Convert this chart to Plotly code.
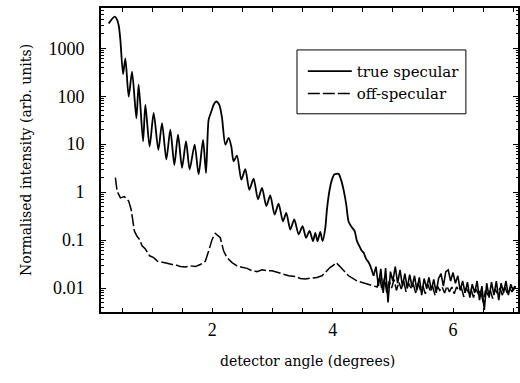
import plotly.graph_objects as go

# ---- true specular (main part) ----
spec_x = [0.277, 0.377, 0.414, 0.444, 0.472, 0.517, 0.555, 0.610, 0.666, 0.738, 0.776, 0.849, 0.887,
          0.958, 1.025, 1.103, 1.164, 1.236, 1.302, 1.369, 1.430, 1.497, 1.563, 1.623, 1.706, 1.772,
          1.846, 1.895, 1.939, 1.983, 2.028, 2.066, 2.116, 2.161, 2.216, 2.271, 2.316, 2.354, 2.410,
          2.482, 2.548, 2.615, 2.686, 2.759, 2.826, 2.897, 2.963, 3.035, 3.101, 3.174, 3.229, 3.296,
          3.362, 3.434, 3.500, 3.557, 3.616, 3.673, 3.711, 3.749, 3.794, 3.832, 3.877, 3.905, 3.949,
          3.988, 4.027, 4.098, 4.138, 4.181, 4.226, 4.264, 4.321, 4.364, 4.404, 4.458, 4.487, 4.513,
          4.558, 4.586, 4.625, 4.653, 4.680]
spec_y = [3300, 4570, 4000, 3020, 1480, 288, 617, 98, 324, 34.7, 174, 11.5, 66,
          8.9, 44.7, 7.6, 27.5, 4.8, 20, 3.7, 15.8, 3.2, 11.5, 2.95, 9.8, 2.34,
          12.3, 2.5, 32.4, 47.9, 69, 77.6, 66, 35.5, 9.8, 13.5, 8.9, 4.4, 5.75,
          1.82, 3.0, 1.12, 1.9, 0.71, 1.23, 0.51, 0.85, 0.34, 0.575, 0.245, 0.37, 0.166,
          0.27, 0.132, 0.195, 0.112, 0.155, 0.095, 0.141, 0.095, 0.148, 0.095, 0.178, 0.436, 1.12,
          1.82, 2.34, 2.4, 1.82, 1.12, 0.55, 0.245, 0.182, 0.155, 0.095, 0.069, 0.059, 0.055,
          0.040, 0.036, 0.029, 0.023, 0.018]

# ---- true specular (noisy tail) ----
spec_tail_x = [4.72, 4.76, 4.80, 4.84, 4.88, 4.92, 4.96, 5.00, 5.04, 5.08, 5.12, 5.16, 5.20, 5.24,
               5.28, 5.32, 5.36, 5.40, 5.44, 5.48, 5.52, 5.56, 5.60, 5.64, 5.68, 5.72, 5.76, 5.80,
               5.84, 5.88, 5.92, 5.96, 6.00, 6.04, 6.08, 6.12, 6.16, 6.20, 6.24, 6.28, 6.32, 6.36,
               6.40, 6.44, 6.48, 6.52, 6.56, 6.60, 6.64, 6.68, 6.72, 6.76, 6.80, 6.84, 6.88, 6.92,
               6.96, 7.00, 7.04]
spec_tail_y = [0.028, 0.011, 0.025, 0.0079, 0.026, 0.005, 0.022, 0.014, 0.028, 0.0126, 0.024, 0.011,
               0.020, 0.010, 0.019, 0.0105, 0.018, 0.0089, 0.0166, 0.0071, 0.0158, 0.010, 0.0166,
               0.0089, 0.0151, 0.0079, 0.0158, 0.020, 0.011, 0.022, 0.024, 0.014, 0.021, 0.0126,
               0.018, 0.0089, 0.014, 0.0079, 0.0132, 0.0063, 0.012, 0.0079, 0.014, 0.0056, 0.011,
               0.0035, 0.0126, 0.0063, 0.0132, 0.0071, 0.014, 0.0056, 0.0126, 0.0079, 0.014, 0.0071,
               0.012, 0.0089, 0.011]

# ---- off-specular (main part) ----
off_x = [0.389, 0.417, 0.472, 0.538, 0.610, 0.650, 0.676, 0.704, 0.749, 0.792, 0.832, 0.887, 0.958,
         1.025, 1.091, 1.164, 1.248, 1.331, 1.402, 1.468, 1.551, 1.635, 1.718, 1.801, 1.884, 1.939,
         1.995, 2.050, 2.105, 2.133, 2.188, 2.244, 2.327, 2.410, 2.493, 2.576, 2.659, 2.743, 2.826,
         2.909, 2.992, 3.158, 3.267, 3.379, 3.462, 3.545, 3.656, 3.739, 3.822, 3.905, 3.960, 4.015,
         4.055, 4.110, 4.181, 4.264, 4.404, 4.570, 4.680]
off_y = [2.0, 1.05, 0.76, 0.81, 0.65, 0.44, 0.27, 0.155, 0.12, 0.102, 0.076, 0.065, 0.047,
         0.043, 0.036, 0.034, 0.033, 0.031, 0.030, 0.028, 0.0275, 0.029, 0.028, 0.031, 0.036, 0.059,
         0.102, 0.138, 0.12, 0.112, 0.059, 0.043, 0.034, 0.029, 0.027, 0.0257, 0.023, 0.022, 0.024,
         0.023, 0.023, 0.0195, 0.018, 0.0174, 0.0158, 0.0155, 0.0158, 0.0166, 0.018, 0.023, 0.027, 0.030,
         0.034, 0.029, 0.023, 0.018, 0.014, 0.012, 0.011]

# ---- off-specular (noisy tail) ----
off_tail_x = [4.74, 4.78, 4.82, 4.86, 4.90, 4.94, 4.98, 5.02, 5.06, 5.10, 5.14, 5.18, 5.22, 5.26,
              5.30, 5.34, 5.38, 5.42, 5.46, 5.50, 5.54, 5.58, 5.62, 5.66, 5.70, 5.74, 5.78, 5.82,
              5.86, 5.90, 5.94, 5.98, 6.02, 6.06, 6.10, 6.14, 6.18, 6.22, 6.26, 6.30, 6.34, 6.38,
              6.42, 6.46, 6.50, 6.54, 6.58, 6.62, 6.66, 6.70, 6.74, 6.78, 6.82, 6.86, 6.90, 6.94,
              6.98, 7.02, 7.06]
off_tail_y = [0.0105, 0.018, 0.0089, 0.0158, 0.0079, 0.014, 0.010, 0.0151, 0.0089, 0.0132, 0.0095,
              0.014, 0.0083, 0.0126, 0.010, 0.012, 0.0079, 0.0126, 0.0089, 0.011, 0.0076, 0.012,
              0.0089, 0.011, 0.0071, 0.011, 0.0089, 0.0105, 0.0079, 0.011, 0.0083, 0.0105, 0.0076,
              0.0105, 0.0089, 0.010, 0.0066, 0.010, 0.0079, 0.0095, 0.0063, 0.0095, 0.0076, 0.0089,
              0.005, 0.0089, 0.0071, 0.0089, 0.006, 0.0095, 0.0076, 0.010, 0.0071, 0.0105, 0.0079,
              0.010, 0.0083, 0.0105, 0.0089]

x_tick_vals = [0.5, 1.0, 1.5, 2.0, 2.5, 3.0, 3.5, 4.0, 4.5, 5.0, 5.5, 6.0, 6.5, 7.0]
x_tick_text = ["", "", "", "2", "", "", "", "4", "", "", "", "6", "", ""]
y_tick_vals = [0.01, 0.1, 1, 10, 100, 1000]
y_tick_text = ["0.01", "0.1", "1", "10", "100", "1000"]

y_minor = [m * 10.0 ** e for e in range(-3, 4) for m in range(2, 10)]
y_minor = [v for v in y_minor if 0.0032 < v < 6900]

serif = "DejaVu Serif"
tickfont = dict(family="Liberation Serif", size=18, color="black")

fig = go.Figure()
fig.add_trace(go.Scatter(x=spec_x, y=spec_y, mode="lines", legendgroup="spec",
                         name="true specular",
                         line=dict(color="black", width=1.8, shape="spline", smoothing=0.7)))
fig.add_trace(go.Scatter(x=spec_x[-1:] + spec_tail_x, y=spec_y[-1:] + spec_tail_y, mode="lines",
                         legendgroup="spec", showlegend=False, name="true specular",
                         line=dict(color="black", width=1.6)))
fig.add_trace(go.Scatter(x=off_x + off_tail_x, y=off_y + off_tail_y, mode="lines",
                         name="off-specular",
                         line=dict(color="black", width=1.5, dash="12px,3px")))

fig.update_layout(
    width=520, height=383,
    margin=dict(l=101, r=2, t=8, b=71),
    plot_bgcolor="white", paper_bgcolor="white",
    showlegend=True,
    legend=dict(x=0.484, y=0.846, xanchor="left", yanchor="top",
                bgcolor="rgba(0,0,0,0)", borderwidth=0,
                font=dict(family=serif, size=15, color="black"),
                itemwidth=44, tracegroupgap=0),
    shapes=[dict(type="rect", xref="paper", yref="paper", x0=0.470, x1=0.875, y0=0.652, y1=0.862,
                 line=dict(color="black", width=1), fillcolor="rgba(0,0,0,0)", layer="above")],
    annotations=[
        dict(text="detector angle (degrees)", xref="paper", yref="paper", x=0.495, y=-0.1626,
             xanchor="center", yanchor="middle", showarrow=False,
             font=dict(family=serif, size=14, color="black")),
        dict(text="Normalised intensity (arb. units)", xref="paper", yref="paper", x=-0.18, y=0.5,
             xanchor="center", yanchor="middle", showarrow=False, textangle=-90,
             font=dict(family=serif, size=14, color="black")),
    ],
)

fig.update_xaxes(range=[0.15, 7.08], tickmode="array", tickvals=x_tick_vals, ticktext=x_tick_text,
                 ticks="inside", ticklen=4, tickwidth=1, tickcolor="black",
                 showline=True, linecolor="black", linewidth=2, mirror="allticks",
                 showgrid=False, zeroline=False, tickfont=tickfont, ticklabelstandoff=0,
                 automargin=False)
fig.update_yaxes(type="log", range=[-2.5, 3.84], tickmode="array", tickvals=y_tick_vals,
                 ticktext=y_tick_text,
                 ticks="inside", ticklen=5, tickwidth=1, tickcolor="black",
                 minor=dict(tickmode="array", tickvals=y_minor, ticks="inside", ticklen=2.5,
                            tickcolor="black", showgrid=False),
                 showline=True, linecolor="black", linewidth=2, mirror="allticks",
                 showgrid=False, zeroline=False, tickfont=tickfont, ticklabelstandoff=11,
                 automargin=False)

fig.write_html("out.html", config={"displayModeBar": False},
               post_script="document.body.style.margin='0';")
